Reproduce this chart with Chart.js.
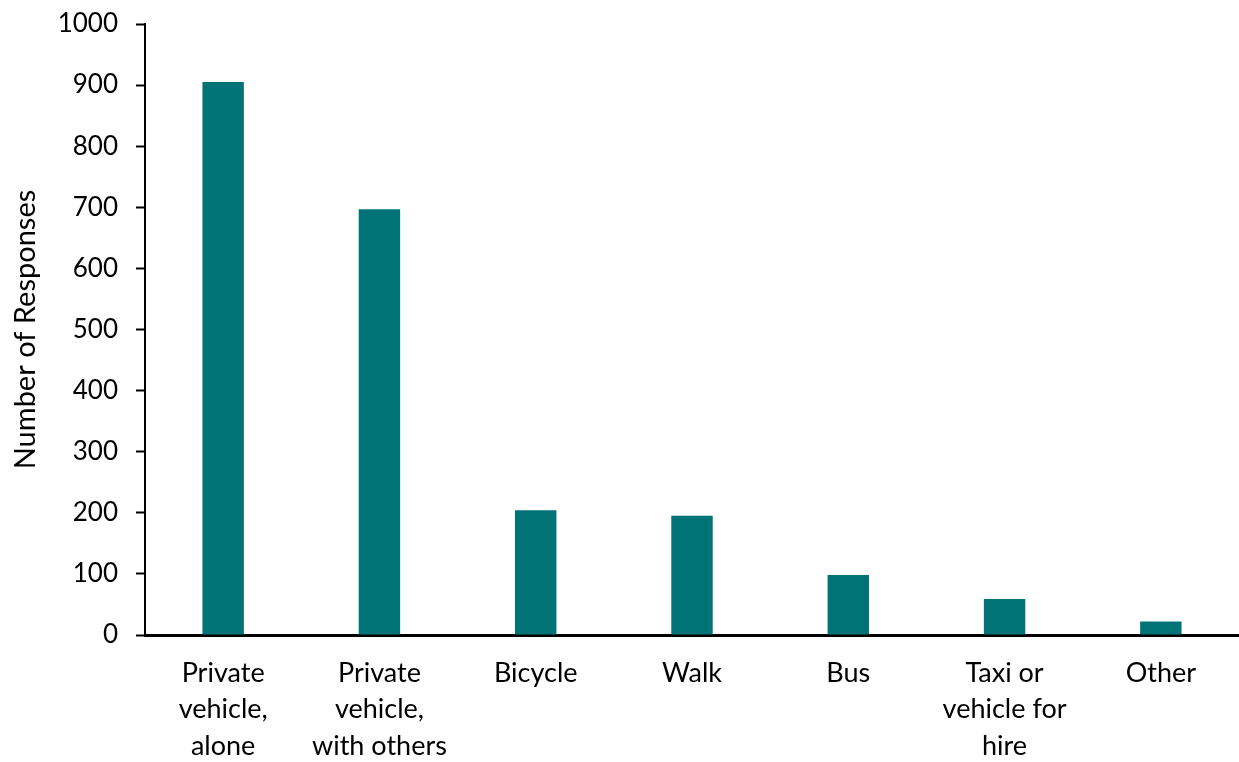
<!DOCTYPE html>
<html>
<head>
<meta charset="utf-8">
<script src="https://cdn.jsdelivr.net/npm/chart.js@4"></script>
<style>
  html, body { margin: 0; padding: 0; background: #fff; }
  #wrap { width: 1239px; height: 762px; }
</style>
</head>
<body>
<div id="wrap"><canvas id="modeChart"></canvas></div>
<script>
// data
const categories = [
	['Private', 'vehicle,', 'alone'],
	['Private', 'vehicle,', 'with others'],
	'Bicycle',
	'Walk',
	'Bus',
	['Taxi or', 'vehicle for', 'hire'],
	'Other'
];
const responses = [905, 697, 204, 195, 98, 59, 22];
const yTicks = [0, 100, 200, 300, 400, 500, 600, 700, 800, 900, 1000];

const FONT = "Lato, 'DejaVu Sans', sans-serif";

const ctx = document.getElementById('modeChart').getContext('2d');
new Chart(ctx, {
	type: 'bar',
	data: {
		labels: categories,
		datasets: [{
			label: 'Number of Responses',
			data: responses,
			backgroundColor: '#007377',
			borderWidth: 0,
			categoryPercentage: 1,
			barPercentage: 0.265
		}]
	},
	options: {
		responsive: true,
		maintainAspectRatio: false,
		animation: false,
		layout: { padding: { top: 24, right: 0, bottom: 0, left: 0 } },
		plugins: {
			legend: { display: false },
			tooltip: { enabled: false }
		},
		scales: {
			x: {
				grid: { display: false, drawTicks: false },
				border: { color: '#000', width: 3 },
				ticks: {
					color: '#000',
					padding: 20,
					maxRotation: 0,
					autoSkip: false,
					font: { family: FONT, size: 27, lineHeight: 1.35 }
				},
				afterFit: function (scale) { scale.height = 127; }
			},
			y: {
				min: 0,
				max: 1000,
				afterBuildTicks: function (scale) {
					scale.ticks = yTicks.map(v => ({ value: v }));
				},
				grid: {
					drawOnChartArea: false,
					drawTicks: true,
					tickLength: 9,
					tickColor: '#000',
					tickWidth: 2
				},
				border: { color: '#000', width: 2 },
				ticks: {
					color: '#000',
					padding: 18,
					callback: v => String(v),
					font: { family: FONT, size: 26 }
				},
				title: {
					display: true,
					text: 'Number of Responses',
					color: '#000',
					padding: { top: 8, bottom: 8 },
					font: { family: FONT, size: 29 }
				},
				afterFit: function (scale) {
					scale.width = 145;
					// let the top label hang into the padding
					scale.paddingTop = 0;
				}
			}
		}
	}
});
</script>
</body>
</html>
